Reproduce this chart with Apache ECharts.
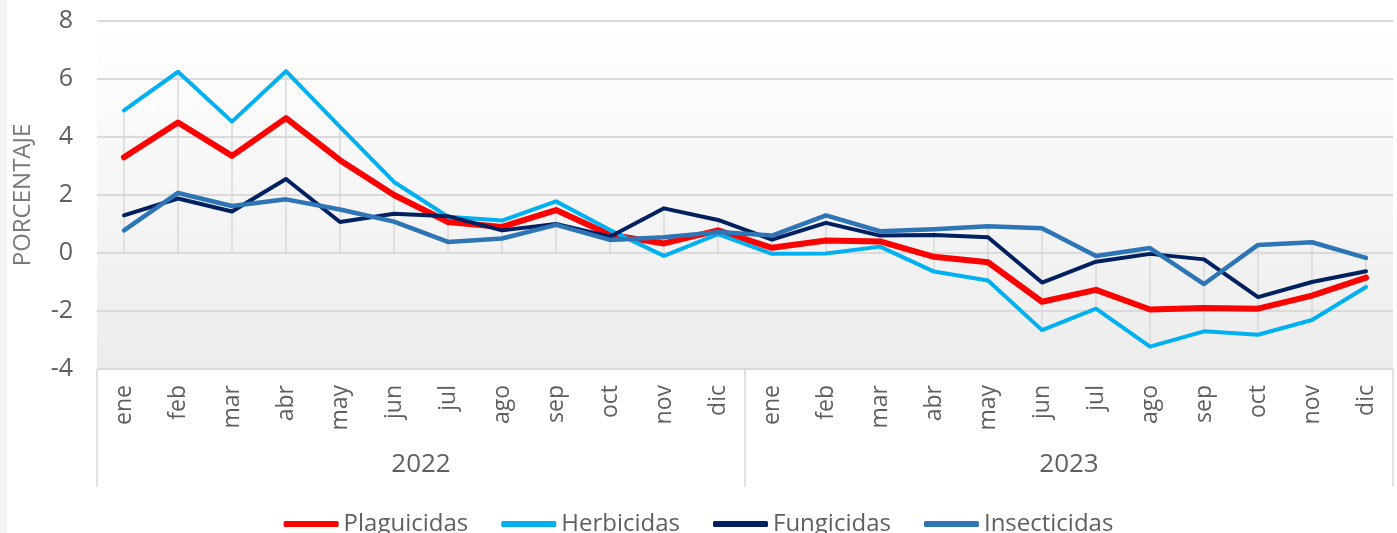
<!DOCTYPE html>
<html>
<head>
<meta charset="utf-8">
<script src="https://cdn.jsdelivr.net/npm/echarts@6/dist/echarts.min.js"></script>
<style>
  html, body { margin: 0; padding: 0; background: #ffffff; }
  #chart { width: 1397px; height: 533px; }
</style>
</head>
<body>
<div id="chart"></div>
<script>
const months = ['ene', 'feb', 'mar', 'abr', 'may', 'jun', 'jul', 'ago', 'sep', 'oct', 'nov', 'dic',
                'ene', 'feb', 'mar', 'abr', 'may', 'jun', 'jul', 'ago', 'sep', 'oct', 'nov', 'dic'];
const years = ['2022', '2023'];
const plaguicidas = [3.3, 4.5, 3.35, 4.65, 3.2, 2.0, 1.07, 0.9, 1.48, 0.63, 0.33, 0.78,
                     0.18, 0.43, 0.4, -0.13, -0.32, -1.68, -1.27, -1.95, -1.9, -1.92, -1.47, -0.85];
const herbicidas = [4.92, 6.25, 4.53, 6.27, 4.35, 2.45, 1.25, 1.12, 1.78, 0.79, -0.1, 0.65,
                    -0.03, -0.02, 0.22, -0.64, -0.95, -2.66, -1.92, -3.23, -2.7, -2.82, -2.31, -1.17];
const fungicidas = [1.3, 1.88, 1.43, 2.55, 1.07, 1.35, 1.27, 0.78, 1.0, 0.56, 1.54, 1.14,
                    0.46, 1.04, 0.6, 0.62, 0.54, -1.02, -0.3, -0.03, -0.22, -1.52, -1.0, -0.63];
const insecticidas = [0.78, 2.07, 1.62, 1.85, 1.5, 1.08, 0.38, 0.5, 0.97, 0.45, 0.54, 0.72,
                      0.6, 1.3, 0.75, 0.82, 0.92, 0.85, -0.1, 0.17, -1.07, 0.28, 0.37, -0.17];
const yTicks = { min: -4, max: 8, step: 2 };

const chart = echarts.init(document.getElementById('chart'));
const font = '"Open Sans", "Noto Sans", sans-serif';
const labelColor = '#5f5f5f';

// líneas verticales entre el valor más alto y el más bajo de cada mes
const allSeries = [plaguicidas, herbicidas, fungicidas, insecticidas];
const hiLow = months.map(function (m, i) {
    const vals = allSeries.map(function (s) { return s[i]; });
    return [i, Math.min(0, ...vals), Math.max(0, ...vals)];
});

function lineSeries(name, data, color, width) {
    return {
        name: name,
        type: 'line',
        xAxisIndex: 0,
        data: data,
        symbol: 'none',
        color: color,
        lineStyle: { color: color, width: width, cap: 'round', join: 'round' },
        z: 3
    };
}

const option = {
    animation: false,
    textStyle: { fontFamily: font },
    graphic: [{
        type: 'rect', left: 0, top: 0, shape: { width: 7, height: 533 },
        style: { fill: '#f4f4f4' }, silent: true
    }],
    grid: {
        left: 97, right: 4, top: 21, bottom: 164,
        outerBoundsMode: 'none',
        containLabel: false,
        show: true, borderWidth: 0,
        backgroundColor: new echarts.graphic.LinearGradient(0, 0, 0, 1, [
            { offset: 0, color: '#ffffff' },
            { offset: 1, color: '#ececec' }
        ])
    },
    legend: {
        data: ['Plaguicidas', 'Herbicidas', 'Fungicidas', 'Insecticidas'],
        left: 'center',
        top: 507,
        icon: 'roundRect',
        itemWidth: 55,
        itemHeight: 6,
        itemGap: 33,
        textStyle: { fontSize: 24, color: labelColor, fontFamily: font }
    },
    xAxis: [
        {
            type: 'category',
            data: months,
            position: 'bottom',
            boundaryGap: true,
            axisLine: { show: false },
            axisTick: { show: false },
            splitLine: { show: false },
            axisLabel: {
                interval: 0, rotate: 90, margin: 16,
                fontSize: 23, color: labelColor, fontFamily: font
            }
        },
        {
            type: 'category',
            data: years,
            position: 'bottom',
            boundaryGap: true,
            axisLine: { show: false },
            axisTick: { show: true, length: 118, lineStyle: { color: '#d9d9d9', width: 1.5 } },
            splitLine: { show: false },
            axisLabel: {
                interval: 0, margin: 83,
                fontSize: 26, color: labelColor, fontFamily: font
            }
        }
    ],
    yAxis: {
        type: 'value',
        min: yTicks.min,
        max: yTicks.max,
        interval: yTicks.step,
        name: 'PORCENTAJE',
        nameLocation: 'middle',
        nameRotate: 90,
        nameGap: 62,
        nameTextStyle: { fontSize: 24, color: '#7a7a7a', fontFamily: font },
        axisLine: { show: false },
        axisTick: { show: false },
        axisLabel: { fontSize: 25, color: labelColor, margin: 24, fontFamily: font },
        splitLine: { lineStyle: { color: '#dadada', width: 2 } }
    },
    series: [
        {
            name: 'hilo',
            type: 'custom',
            xAxisIndex: 0,
            data: hiLow,
            silent: true,
            z: 1,
            renderItem: function (params, api) {
                const p1 = api.coord([api.value(0), api.value(1)]);
                const p2 = api.coord([api.value(0), api.value(2)]);
                return {
                    type: 'line',
                    shape: { x1: p1[0], y1: p1[1], x2: p2[0], y2: p2[1] },
                    style: { stroke: '#d9d9d9', lineWidth: 1.5 }
                };
            }
        },
        lineSeries('Plaguicidas', plaguicidas, '#ff0000', 6),
        lineSeries('Herbicidas', herbicidas, '#00b0f0', 4),
        lineSeries('Fungicidas', fungicidas, '#002060', 4),
        lineSeries('Insecticidas', insecticidas, '#2e75b6', 4.5)
    ]
};

chart.setOption(option);
window.addEventListener('resize', function () { chart.resize(); });
</script>
</body>
</html>
